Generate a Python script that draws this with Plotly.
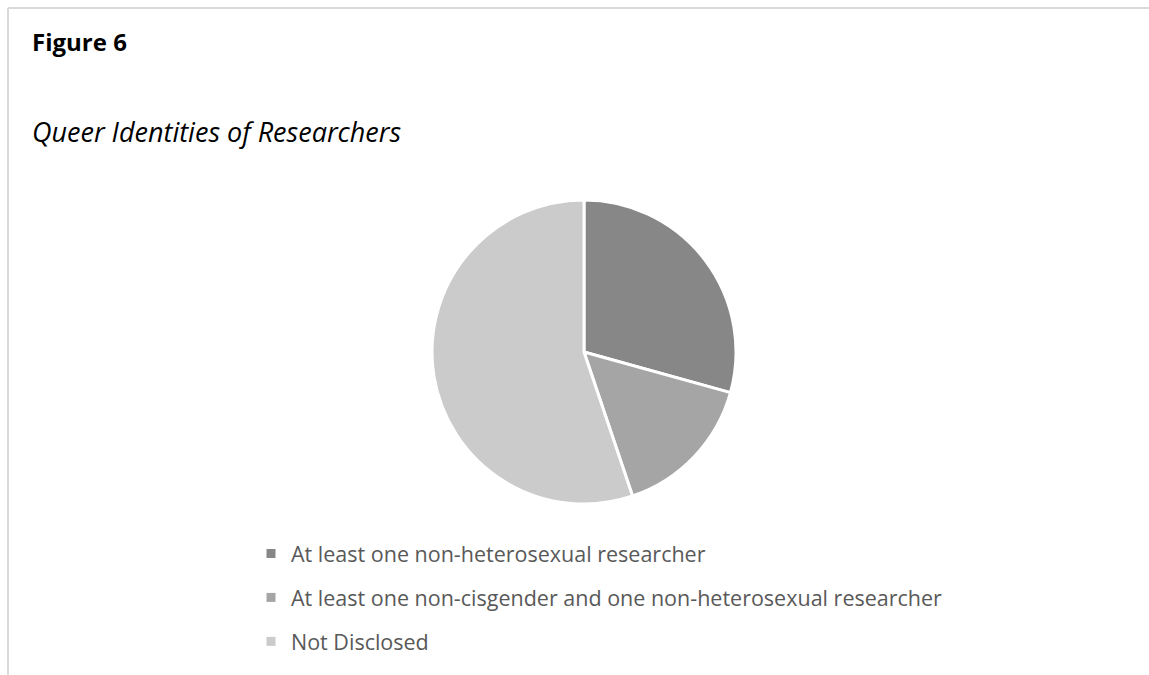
import plotly.graph_objects as go

# Study counts by reported researcher identity
categories = [
    "At least one non-heterosexual researcher",
    "At least one non-cisgender and one non-heterosexual researcher",
    "Not Disclosed",
]
counts = [17, 9, 32]
colors = ["#878787", "#a5a5a5", "#cbcbcb"]

W, H = 1149, 675
FONT = "'Open Sans', Lato, sans-serif"

def px_x(x):
    return x / W

def px_y(y):
    return 1 - y / H

cx, cy, r = 584, 352, 152

fig = go.Figure()

fig.add_trace(go.Pie(
    labels=categories,
    values=counts,
    marker=dict(colors=colors, line=dict(color="white", width=3)),
    sort=False,
    direction="clockwise",
    rotation=0,
    textinfo="none",
    hoverinfo="label+value+percent",
    showlegend=False,
    domain=dict(x=[px_x(cx - r), px_x(cx + r)], y=[px_y(cy + r), px_y(cy - r)]),
))

# Legend entries (square swatches)
for i, (name, col) in enumerate(zip(categories, colors)):
    fig.add_trace(go.Scatter(
        x=[None], y=[None], mode="markers", name=name,
        marker=dict(symbol="square", size=9, color=col),
        legendgroup=f"g{i}", showlegend=True, hoverinfo="skip",
    ))

fig.update_layout(
    width=W, height=H,
    margin=dict(l=0, r=0, t=0, b=0),
    paper_bgcolor="white",
    plot_bgcolor="white",
    xaxis=dict(visible=False),
    yaxis=dict(visible=False),
    showlegend=True,
    legend=dict(
        x=px_x(251), y=px_y(533), xanchor="left", yanchor="top",
        font=dict(family=FONT, size=21.5, color="#595959"),
        tracegroupgap=13,
        itemsizing="trace",
        bgcolor="rgba(0,0,0,0)",
    ),
    annotations=[
        dict(text="<b>Figure 6</b>", x=px_x(30), y=px_y(41), xref="paper", yref="paper",
             xanchor="left", yanchor="middle", showarrow=False,
             font=dict(family=FONT, size=24, color="black")),
        dict(text="<i>Queer Identities of Researchers</i>", x=px_x(30), y=px_y(131),
             xref="paper", yref="paper", xanchor="left", yanchor="middle", showarrow=False,
             font=dict(family=FONT, size=27, color="black")),
    ],
    shapes=[
        dict(type="line", xref="paper", yref="paper", x0=px_x(8), x1=1, y0=px_y(8), y1=px_y(8),
             line=dict(color="#d9d9d9", width=2)),
        dict(type="line", xref="paper", yref="paper", x0=px_x(8), x1=px_x(8), y0=0, y1=px_y(8),
             line=dict(color="#d9d9d9", width=2)),
    ],
)

fig.write_html("out.html")
